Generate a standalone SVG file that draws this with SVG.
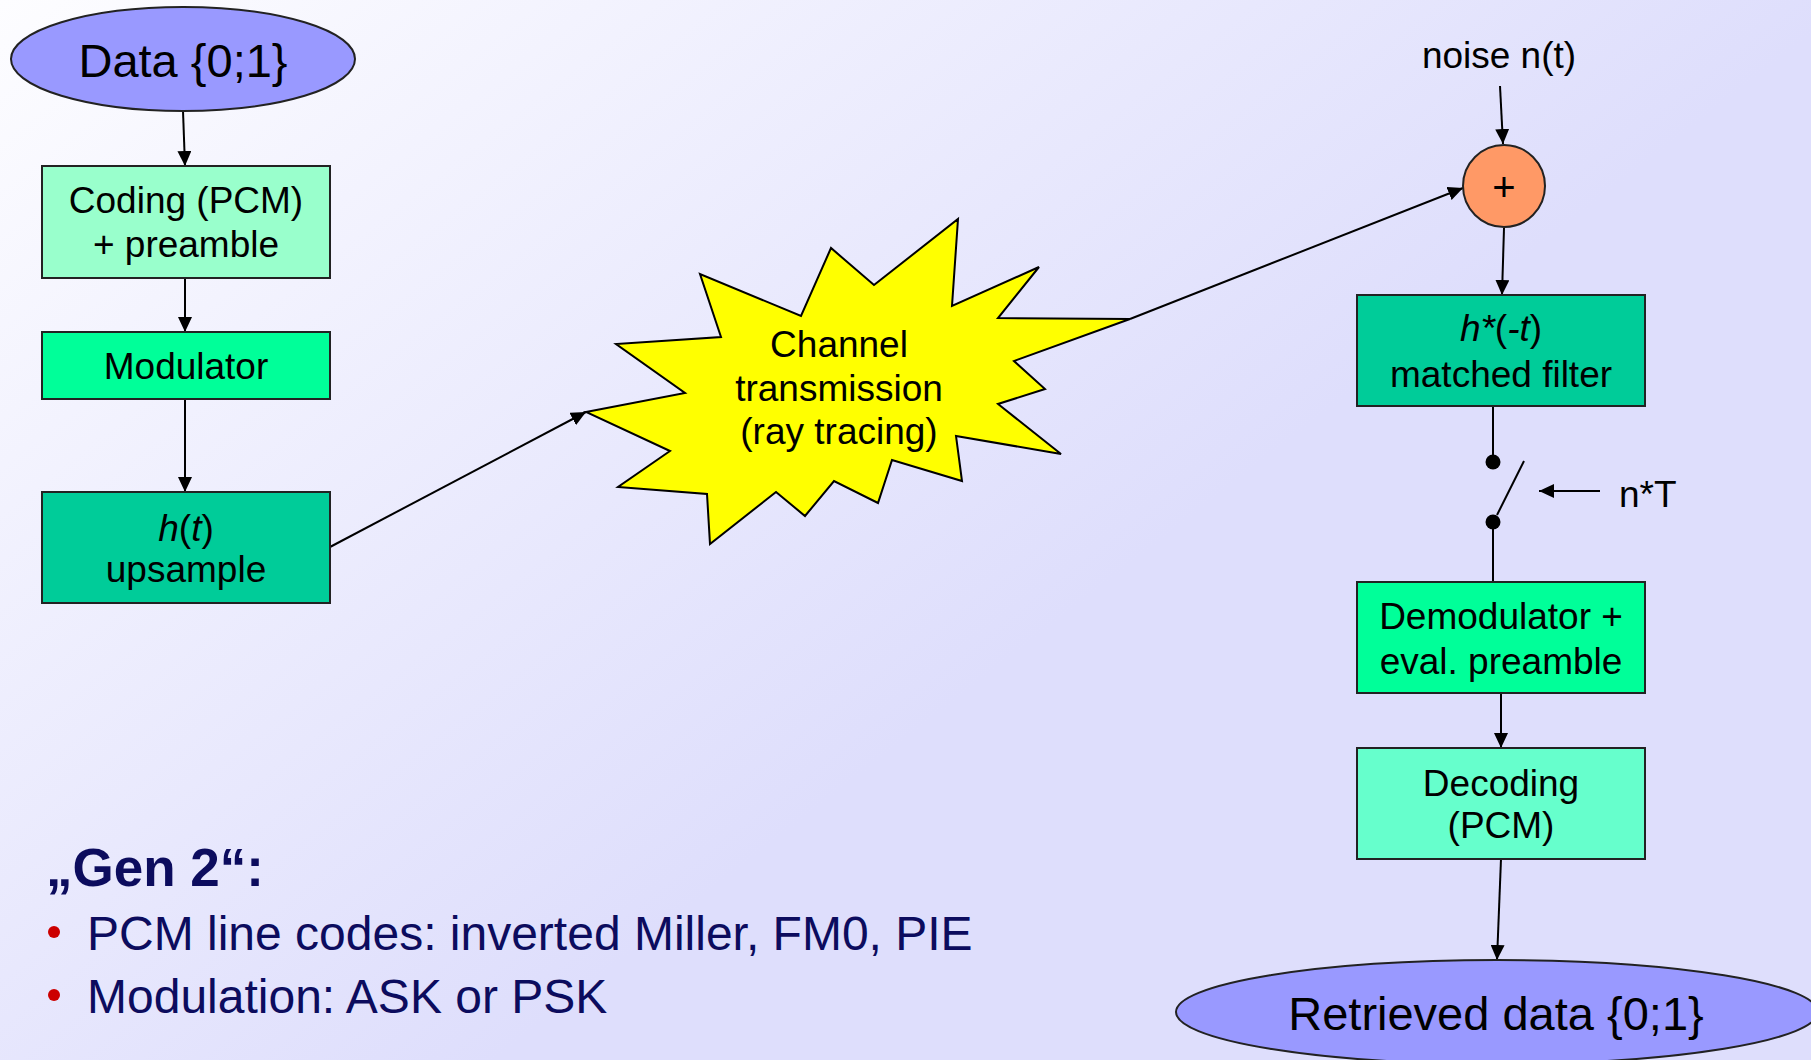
<svg xmlns="http://www.w3.org/2000/svg" width="1811" height="1060" viewBox="0 0 1811 1060">
<defs>
<linearGradient id="bg" gradientUnits="userSpaceOnUse" x1="0" y1="0" x2="700" y2="900">
<stop offset="0" stop-color="#FDFDFF"/>
<stop offset="1" stop-color="#DEDEFC"/>
</linearGradient>
<marker id="arr" viewBox="0 0 15 14" refX="15" refY="7" markerWidth="15" markerHeight="14" markerUnits="userSpaceOnUse" orient="auto">
<path d="M0,0 L15,7 L0,14 z" fill="#000"/>
</marker>
<style>
.box{stroke:#222;stroke-width:2}
.t{font-family:"Liberation Sans",Arial,sans-serif;font-size:37px;fill:#000;text-anchor:middle}
.big{font-size:47px}
.c{stroke:#000;stroke-width:2;fill:none}
.b{font-family:"Liberation Sans",Arial,sans-serif;fill:#0C0C5E}
</style>
</defs>
<rect width="1811" height="1060" fill="url(#bg)"/>

<g id="connectors">
<line class="c" x1="183" y1="111" x2="185" y2="166" marker-end="url(#arr)"/>
<line class="c" x1="185" y1="278" x2="185" y2="332" marker-end="url(#arr)"/>
<line class="c" x1="185" y1="399" x2="185" y2="492" marker-end="url(#arr)"/>
<line class="c" x1="330" y1="547" x2="586" y2="412" marker-end="url(#arr)"/>
<line class="c" x1="1130" y1="319" x2="1463" y2="188" marker-end="url(#arr)"/>
<line class="c" x1="1500" y1="86" x2="1503" y2="144" marker-end="url(#arr)"/>
<line class="c" x1="1504" y1="228" x2="1502" y2="295" marker-end="url(#arr)"/>
<line class="c" x1="1493" y1="406" x2="1493" y2="462"/>
<line class="c" x1="1493" y1="522" x2="1493" y2="582"/>
<line class="c" x1="1497" y1="515" x2="1524" y2="461"/>
<line class="c" x1="1600" y1="491" x2="1539" y2="491" marker-end="url(#arr)"/>
<line class="c" x1="1501" y1="693" x2="1501" y2="748" marker-end="url(#arr)"/>
<line class="c" x1="1501" y1="859" x2="1497" y2="960" marker-end="url(#arr)"/>
</g>

<g id="data">
<ellipse cx="183" cy="59" rx="172" ry="52" fill="#9999FF" class="box"/>
<text class="t big" x="183" y="77">Data {0;1}</text>
</g>

<g id="coding">
<rect x="42" y="166" width="288" height="112" fill="#99FFCC" class="box"/>
<text class="t" x="186" y="213">Coding (PCM)</text>
<text class="t" x="186" y="257">+ preamble</text>
</g>

<g id="modulator">
<rect x="42" y="332" width="288" height="67" fill="#00FF99" class="box"/>
<text class="t" x="186" y="379">Modulator</text>
</g>

<g id="upsample">
<rect x="42" y="492" width="288" height="111" fill="#00CC99" class="box"/>
<text class="t" x="186" y="541"><tspan font-style="italic">h</tspan>(<tspan font-style="italic">t</tspan>)</text>
<text class="t" x="186" y="582">upsample</text>
</g>

<g id="channel">
<polygon points="586,412 685,393 616,344 721,337 700,274 801,316 831,248 874,285 958,219 952,306 1039,267 998,318 1130,319 1014,361 1045,389 998,404 1061,454 956,436 962,481 892,460 878,503 834,481 805,516 776,492 710,544 707,494 618,487 670,451" fill="#FFFF00" stroke="#000" stroke-width="2" stroke-linejoin="miter"/>
<text class="t" x="839" y="357">Channel</text>
<text class="t" x="839" y="401">transmission</text>
<text class="t" x="839" y="444">(ray tracing)</text>
</g>

<g id="noise">
<text class="t" x="1499" y="68">noise n(t)</text>
</g>

<g id="adder">
<circle cx="1504" cy="186" r="41" fill="#FF9966" class="box"/>
<text class="t" x="1504" y="201" style="font-size:40px">+</text>
</g>

<g id="matched-filter">
<rect x="1357" y="295" width="288" height="111" fill="#00CC99" class="box"/>
<text class="t" x="1501" y="341"><tspan font-style="italic">h*</tspan>(<tspan font-style="italic">-t</tspan>)</text>
<text class="t" x="1501" y="387">matched filter</text>
</g>

<g id="sampler">
<circle cx="1493" cy="462" r="7.5" fill="#000"/>
<circle cx="1493" cy="522" r="7.5" fill="#000"/>
<text class="t" x="1619" y="507" style="text-anchor:start">n*T</text>
</g>

<g id="demodulator">
<rect x="1357" y="582" width="288" height="111" fill="#00FF99" class="box"/>
<text class="t" x="1501" y="629">Demodulator +</text>
<text class="t" x="1501" y="674">eval. preamble</text>
</g>

<g id="decoding">
<rect x="1357" y="748" width="288" height="111" fill="#66FFCC" class="box"/>
<text class="t" x="1501" y="796">Decoding</text>
<text class="t" x="1501" y="838">(PCM)</text>
</g>

<g id="retrieved">
<ellipse cx="1497" cy="1012" rx="321" ry="52" fill="#9999FF" class="box"/>
<text class="t big" x="1496" y="1030">Retrieved data {0;1}</text>
</g>

<g id="notes">
<text class="b" x="46" y="886" style="font-size:53px;font-weight:bold">„Gen 2“:</text>
<circle cx="54" cy="932" r="6" fill="#CC0000"/>
<text class="b" x="87" y="950" style="font-size:48px">PCM line codes: inverted Miller, FM0, PIE</text>
<circle cx="54" cy="995" r="6" fill="#CC0000"/>
<text class="b" x="87" y="1013" style="font-size:48px">Modulation: ASK or PSK</text>
</g>
</svg>
